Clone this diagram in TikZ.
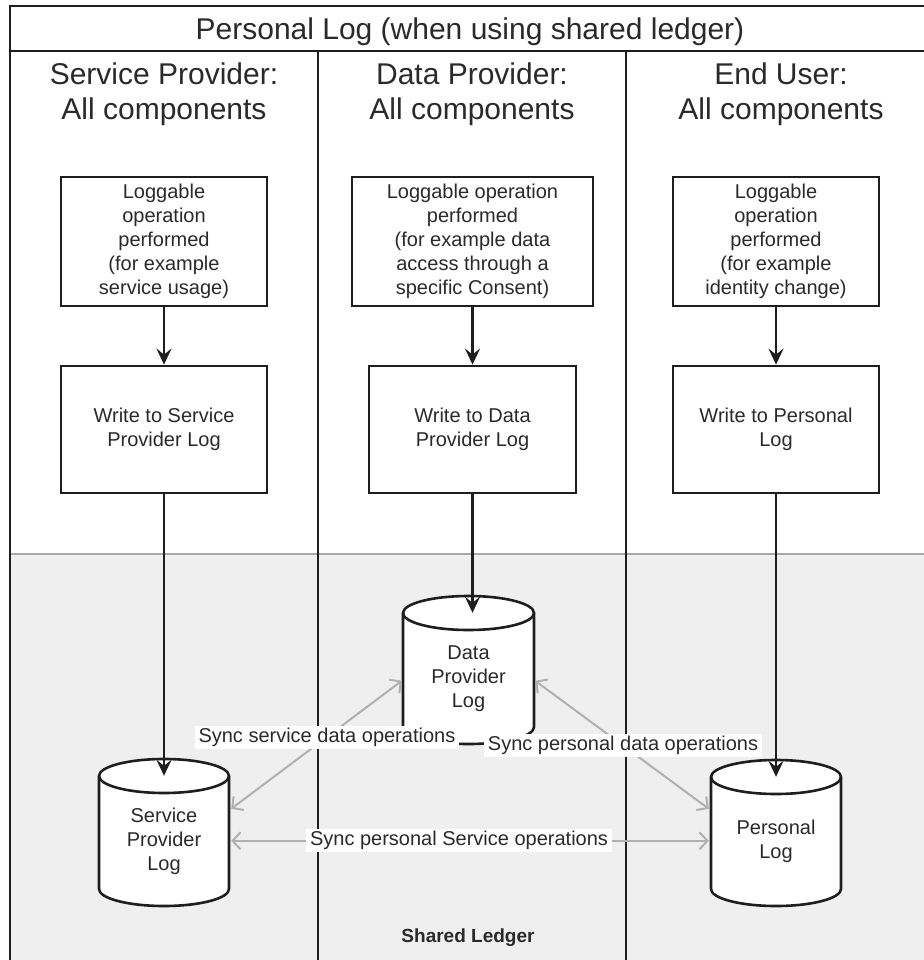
\documentclass[tikz,border=0pt]{standalone}
\usepackage{fontspec}
\setmainfont{Liberation Sans}
\usetikzlibrary{arrows.meta,calc}
\definecolor{ink}{HTML}{2A2A2A}
\definecolor{frameline}{HTML}{1E1E1E}
\definecolor{lanefill}{HTML}{EFEFEF}
\definecolor{laneline}{HTML}{A8A8A8}
\definecolor{syncgray}{HTML}{B0B0B0}
\tikzset{
  stepbox/.style={draw=frameline, line width=2.8pt, fill=white, text=ink, align=center,
    font=\fontsize{20}{24}\selectfont, inner sep=0pt},
  flowarrow/.style={draw=frameline, line width=2.6pt, -{Stealth[length=16pt,width=15pt,inset=6pt]}},
  syncarrow/.style={draw=syncgray, line width=2pt,
    {Straight Barb[length=8pt,width=17pt]}-{Straight Barb[length=8pt,width=17pt]}},
  synclabel/.style={fill=white, text=ink, font=\fontsize{20}{24}\selectfont,
    inner xsep=4pt, inner ysep=1.5pt, text height=15pt, text depth=5pt},
  cylnode/.style={draw=none, inner sep=0pt, text=ink, align=center, font=\fontsize{20}{24}\selectfont},
  cylbody/.style={fill=white, draw=frameline, line width=2.6pt},
  headtext/.style={text=ink, align=center, font=\fontsize{30}{35}\selectfont, inner sep=0pt},
  frame/.style={draw=frameline, line width=2.5pt},
  ledgertext/.style={text=ink, font=\bfseries\fontsize{19}{22}\selectfont, inner sep=0pt}
}
% name, centre x, top y, width, height, text
\newcommand\dbcyl[6]{%
  \pgfmathsetmacro\cyL{#2-#4/2}%
  \pgfmathsetmacro\cyR{#2+#4/2}%
  \pgfmathsetmacro\cyE{#3+17}%
  \pgfmathsetmacro\cyB{#3+#5}%
  \pgfmathsetmacro\cyRX{#4/2}%
  \pgfmathsetmacro\cyH{#5-17}%
  \pgfmathsetmacro\cyM{(#3+17+#3+#5)/2}%
  \filldraw[cylbody] (\cyL,\cyE) -- (\cyL,\cyB-17)
     arc[start angle=180,end angle=0,x radius=\cyRX,y radius=17]
     -- (\cyR,\cyE)
     arc[start angle=0,end angle=-180,x radius=\cyRX,y radius=17] -- cycle;
  \draw[cylbody, fill=none] (\cyL,\cyE) arc[start angle=180,end angle=0,x radius=\cyRX,y radius=17];
  \node[cylnode, minimum width=#4pt, minimum height=\cyH pt] (#1) at (#2,\cyM) {#6};
}
\begin{document}
\begin{tikzpicture}[x=1pt,y=-1pt]
\useasboundingbox (0,0) rectangle (923,960);
\fill[white] (0,0) rectangle (923,960);
% shared ledger lane
\fill[lanefill] (10,554) rectangle (940,965);
\draw[laneline, line width=2.2pt] (10,554) -- (940,554);
% pool frame
\draw[frame] (10,965) -- (10,6) -- (940,6);
\draw[frame] (10,51) -- (940,51);
\draw[frame] (318,51) -- (318,965);
\draw[frame] (626,51) -- (626,965);
% title and headers
\node[headtext, anchor=base] (title) at (470,40) {Personal Log (when using shared ledger)};
\node[headtext, anchor=north] (hsp) at (164,63) {Service Provider:\\All components};
\node[headtext, anchor=north] (hdp) at (472,63) {Data Provider:\\All components};
\node[headtext, anchor=north] (heu) at (781,63) {End User:\\All components};
% process boxes
\node[stepbox, minimum width=206pt, minimum height=129pt] (a1) at (164,241.5)
  {Loggable\\operation\\performed\\(for example\\service usage)};
\node[stepbox, minimum width=206pt, minimum height=127pt] (a2) at (164,429.5)
  {Write to Service\\Provider Log};
\node[stepbox, minimum width=241pt, minimum height=129pt] (b1) at (472.5,241.5)
  {Loggable operation\\performed\\(for example data\\access through a\\specific Consent)};
\node[stepbox, minimum width=207pt, minimum height=127pt] (b2) at (472.5,429.5)
  {Write to Data\\Provider Log};
\node[stepbox, minimum width=206pt, minimum height=129pt] (c1) at (776,241.5)
  {Loggable\\operation\\performed\\(for example\\identity change)};
\node[stepbox, minimum width=206pt, minimum height=127pt] (c2) at (776,429.5)
  {Write to Personal\\Log};
\draw[flowarrow] (a1.south) -- (a2.north);
\draw[flowarrow] (b1.south) -- (b2.north);
\draw[flowarrow] (c1.south) -- (c2.north);
% logs
\dbcyl{sp}{164}{759}{130}{147}{Service\\Provider\\Log}
\dbcyl{dp}{468.5}{596}{131}{148}{Data\\Provider\\Log}
\dbcyl{pl}{776}{760}{130}{146}{Personal\\Log}
\draw[flowarrow] (a2.south) -- (a2.south |- sp.north);
\draw[flowarrow] (b2.south) -- (b2.south |- dp.north);
\draw[flowarrow] (c2.south) -- (c2.south |- pl.north);
% synchronisation
\draw[syncarrow] ($(sp.north east)+(2,33)$) --
  node[synclabel, pos=0.561] (l1) {Sync service data operations} ($(dp.north west)+(-1,68)$);
\draw[syncarrow] ($(dp.north east)+(1,68)$) --
  node[synclabel, pos=0.506] (l2) {Sync personal data operations} ($(pl.north west)+(-2,32)$);
\draw[syncarrow] ($(sp.north east)+(2,65)$) --
  node[synclabel, pos=0.477] (l3) {Sync personal Service operations} ($(pl.north west)+(-2,64)$);
\node[ledgertext] (ledger) at (468,938) {Shared Ledger};
\end{tikzpicture}
\end{document}
